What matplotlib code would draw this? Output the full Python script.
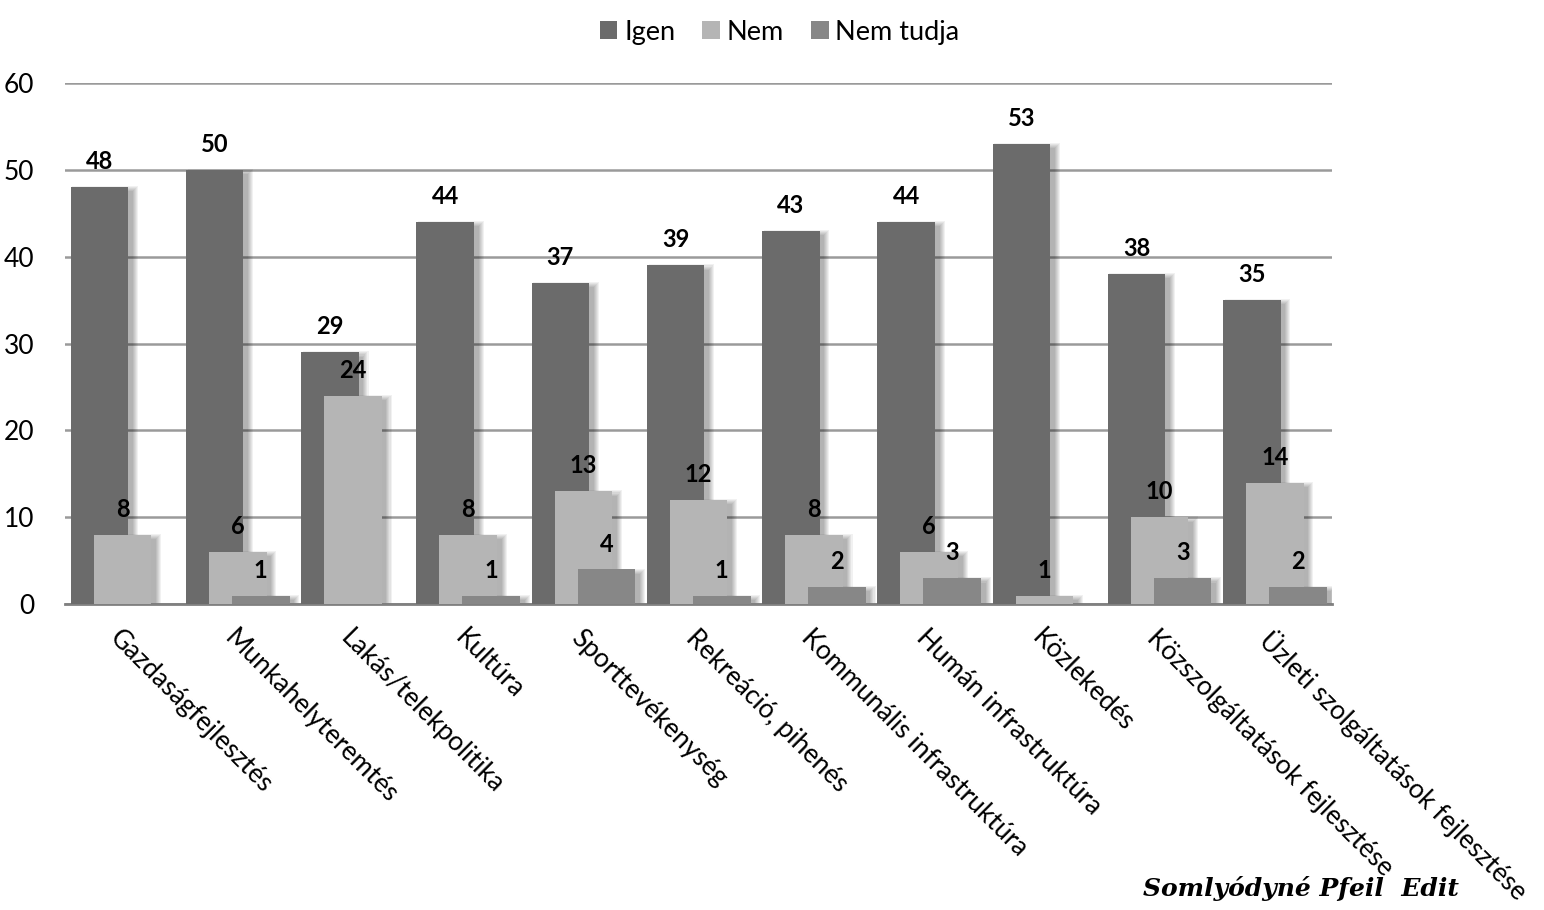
#!/usr/bin/env python3

import matplotlib
matplotlib.use('Agg')
import matplotlib.pyplot as plt
import numpy as np


# Data.
categories = [
    'Gazdaságfejlesztés', 'Munkahelyteremtés', 'Lakás/telekpolitika',
    'Kultúra', 'Sporttevékenység', 'Rekreáció, pihenés',
    'Kommunális infrastruktúra', 'Humán infrastruktúra', 'Közlekedés',
    'Közszolgáltatások fejlesztése', 'Üzleti szolgáltatások fejlesztése',
]
igen = [48, 50, 29, 44, 37, 39, 43, 44, 53, 38, 35]
nem = [8, 6, 24, 8, 13, 12, 8, 6, 1, 10, 14]
nem_tudja = [0, 1, 0, 1, 4, 1, 2, 3, 0, 3, 2]

series = [('Igen', igen, '#6b6b6b'),
          ('Nem', nem, '#b5b5b5'),
          ('Nem tudja', nem_tudja, '#878787')]

plt.rcParams['font.family'] = ['Lato', 'DejaVu Sans']

fig = plt.figure(figsize=(15.44, 9.10), dpi=100)
ax = fig.add_axes((0.042, 0.336, 0.821, 0.573))

x = np.arange(len(categories))
width = 0.5
offsets = [-0.2, 0.0, 0.2]

for (name, vals, color), off in zip(series, offsets):
    vals = np.asarray(vals, dtype=float)
    # soft drop shadow, layered to look blurred
    for k in range(6):
        d = 0.018 * k
        ax.bar(x + off + 0.05, vals - 0.5 + 0.12 * k, width=width - 0.02 + d,
               bottom=0, color='black', alpha=0.055, linewidth=0, zorder=2)
    ax.bar(x + off, vals, width=width, color=color, label=name,
           linewidth=0, zorder=3)
    for xi, v in zip(x + off, vals):
        if v > 0:
            ax.text(xi, v + 1.6, f'{int(v)}', ha='center', va='bottom',
                    fontsize=17, fontweight='bold', color='black', zorder=5)

ax.set_xlim(-0.5, len(categories) - 0.5)
ax.set_ylim(0, 60)
ax.set_yticks(np.arange(0, 61, 10))
ax.yaxis.grid(True, color='#9a9a9a', linewidth=1.8, zorder=0)
ax.set_axisbelow(True)
for side in ['left', 'right', 'top']:
    ax.spines[side].set_visible(False)
ax.spines['bottom'].set_color('#808080')
ax.spines['bottom'].set_linewidth(2)
ax.tick_params(axis='both', length=0, labelsize=19)
ax.tick_params(axis='y', pad=22)

ax.set_xticks(x)
ax.set_xticklabels(categories, rotation=-45, ha='left', va='top',
                   rotation_mode='anchor', fontsize=19)
ax.tick_params(axis='x', pad=15)

leg = fig.legend(loc='upper center', bbox_to_anchor=(0.505, 1.005), ncol=3,
                 frameon=False, fontsize=19.5, handlelength=0.65,
                 handleheight=0.65, handletextpad=0.25, columnspacing=1.0)

fig.text(0.945, 0.01, 'Somlyódyné Pfeil  Edit', ha='right', va='bottom',
         fontsize=18, fontweight='bold', fontstyle='italic',
         family='DejaVu Serif')

fig.savefig('out.png', dpi=100, facecolor='white')
